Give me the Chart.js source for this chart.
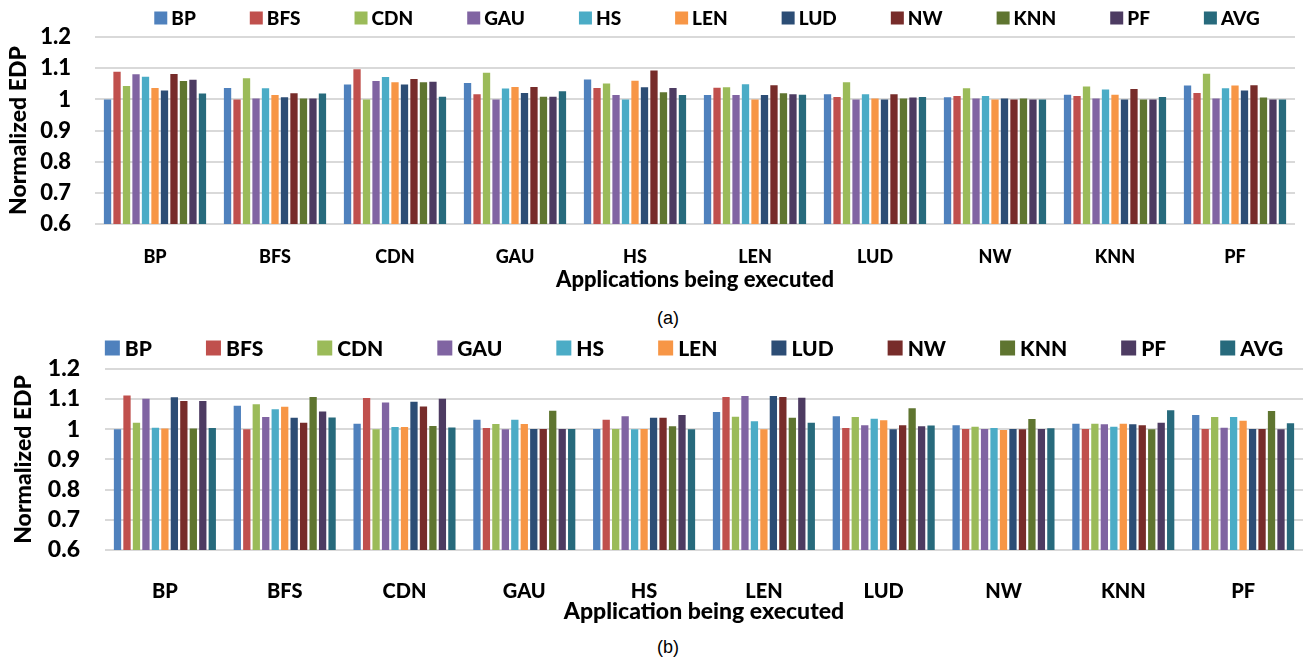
<!DOCTYPE html>
<html>
<head>
<meta charset="utf-8">
<script src="https://cdn.jsdelivr.net/npm/chart.js"></script>
<style>
  html, body { margin: 0; padding: 0; background: #fff; }
  body { width: 1314px; height: 658px; position: relative; overflow: hidden; }
  .wrap { position: absolute; left: 0; width: 1314px; }
  .cap { position: absolute; left: 0; width: 1336px; text-align: center;
         font-family: "Liberation Sans", Arial, sans-serif; font-size: 18px; color: #000; }
</style>
</head>
<body>
<div class="wrap" style="top:0px;height:293px"><canvas id="chartA" width="1314" height="293"></canvas></div>
<div class="cap" style="top:308px">(a)</div>
<div class="wrap" style="top:330px;height:295px"><canvas id="chartB" width="1314" height="295"></canvas></div>
<div class="cap" style="top:637px">(b)</div>
<script>
// applications on the x axis
const apps = ['BP', 'BFS', 'CDN', 'GAU', 'HS', 'LEN', 'LUD', 'NW', 'KNN', 'PF'];
const seriesNames = ['BP', 'BFS', 'CDN', 'GAU', 'HS', 'LEN', 'LUD', 'NW', 'KNN', 'PF', 'AVG'];
const seriesColors = ['#4F81BD', '#C0504D', '#9BBB59', '#8064A2', '#4BACC6', '#F79646',
                      '#2C4D75', '#772C2A', '#5F7530', '#4D3B62', '#276A7C'];
const yTicks = [0.6, 0.7, 0.8, 0.9, 1, 1.1, 1.2];

// (a) normalized EDP, one array per co-running series
const a_BP  = [1.000, 1.037, 1.048, 1.053, 1.064, 1.014, 1.017, 1.007, 1.015, 1.045];
const a_BFS = [1.089, 1.000, 1.097, 1.017, 1.037, 1.038, 1.008, 1.011, 1.011, 1.021];
const a_CDN = [1.043, 1.068, 1.000, 1.086, 1.051, 1.039, 1.055, 1.036, 1.042, 1.083];
const a_GAU = [1.081, 1.003, 1.059, 1.000, 1.014, 1.014, 1.000, 1.003, 1.003, 1.003];
const a_HS  = [1.073, 1.036, 1.072, 1.035, 1.000, 1.049, 1.017, 1.011, 1.032, 1.036];
const a_LEN = [1.037, 1.014, 1.055, 1.040, 1.060, 1.000, 1.003, 1.000, 1.015, 1.045];
const a_LUD = [1.029, 1.007, 1.048, 1.021, 1.039, 1.014, 1.000, 1.003, 1.000, 1.029];
const a_NW  = [1.082, 1.020, 1.066, 1.040, 1.093, 1.046, 1.017, 1.000, 1.034, 1.046];
const a_KNN = [1.059, 1.003, 1.055, 1.009, 1.023, 1.020, 1.003, 1.003, 1.000, 1.006];
const a_PF  = [1.063, 1.003, 1.057, 1.009, 1.037, 1.017, 1.006, 1.000, 1.000, 1.000];
const a_AVG = [1.019, 1.019, 1.009, 1.026, 1.014, 1.015, 1.008, 1.000, 1.008, 1.000];

// (b) normalized EDP
const b_BP  = [1.000, 1.078, 1.018, 1.031, 1.001, 1.057, 1.043, 1.013, 1.018, 1.047];
const b_BFS = [1.112, 1.000, 1.103, 1.004, 1.031, 1.107, 1.004, 1.001, 1.001, 1.001];
const b_CDN = [1.021, 1.083, 1.000, 1.017, 1.001, 1.041, 1.040, 1.008, 1.018, 1.040];
const b_GAU = [1.101, 1.040, 1.088, 1.000, 1.043, 1.110, 1.013, 1.001, 1.016, 1.005];
const b_HS  = [1.005, 1.066, 1.007, 1.031, 1.000, 1.026, 1.035, 1.004, 1.008, 1.040];
const b_LEN = [1.002, 1.074, 1.007, 1.017, 1.001, 1.000, 1.030, 0.997, 1.018, 1.028];
const b_LUD = [1.106, 1.038, 1.091, 1.001, 1.038, 1.110, 1.000, 1.001, 1.016, 1.001];
const b_NW  = [1.093, 1.021, 1.075, 1.001, 1.038, 1.107, 1.013, 1.000, 1.013, 1.001];
const b_KNN = [1.002, 1.107, 1.011, 1.061, 1.010, 1.038, 1.069, 1.034, 1.000, 1.060];
const b_PF  = [1.093, 1.059, 1.101, 1.001, 1.047, 1.104, 1.010, 1.001, 1.021, 1.000];
const b_AVG = [1.004, 1.039, 1.006, 1.001, 1.000, 1.021, 1.012, 1.003, 1.063, 1.020];

const seriesA = [a_BP, a_BFS, a_CDN, a_GAU, a_HS, a_LEN, a_LUD, a_NW, a_KNN, a_PF, a_AVG];
const seriesB = [b_BP, b_BFS, b_CDN, b_GAU, b_HS, b_LEN, b_LUD, b_NW, b_KNN, b_PF, b_AVG];

const FONT = 'Lato';
const WEIGHT = '900';

// legend drawn as one row above the plot, spacing follows text width like Excel does
const rowLegend = {
    id: 'rowLegend',
    afterDraw(chart, args, opts) {
        const ctx = chart.ctx;
        ctx.save();
        ctx.font = WEIGHT + ' ' + opts.size + 'px ' + FONT;
        ctx.textBaseline = 'middle';
        const items = chart.data.datasets.map(ds => ({
            label: ds.label, color: ds.backgroundColor,
            w: opts.box + opts.gap + ctx.measureText(ds.label).width
        }));
        const total = items.reduce((s, it) => s + it.w, 0) + opts.spacing * (items.length - 1);
        let x = opts.center - total / 2;
        items.forEach(it => {
            ctx.fillStyle = it.color;
            ctx.fillRect(x, opts.y - opts.box / 2, opts.box, opts.box);
            ctx.fillStyle = '#000';
            ctx.fillText(it.label, x + opts.box + opts.gap, opts.y + 1);
            x += it.w + opts.spacing;
        });
        ctx.restore();
    }
};

function makeChart(id, series, cfg) {
    const datasets = series.map((vals, i) => ({
        label: seriesNames[i],
        data: vals,
        backgroundColor: seriesColors[i],
        borderWidth: 0,
        categoryPercentage: 0.87,
        barPercentage: 0.77
    }));
    return new Chart(document.getElementById(id), {
        type: 'bar',
        data: { labels: apps, datasets: datasets },
        plugins: [rowLegend],
        options: {
            responsive: false,
            animation: false,
            layout: { padding: { top: cfg.top, left: cfg.left, right: cfg.right, bottom: 0 } },
            plugins: {
                legend: { display: false },
                tooltip: { enabled: false },
                rowLegend: cfg.legend
            },
            scales: {
                x: {
                    grid: { display: false },
                    border: { display: false },
                    ticks: { color: '#000', padding: cfg.xTickPad, maxRotation: 0,
                             font: { family: FONT, weight: WEIGHT, size: cfg.xTickSize } },
                    title: { display: true, text: cfg.xTitle, color: '#000', padding: 0,
                             font: { family: FONT, weight: WEIGHT, size: cfg.xTitleSize, lineHeight: 1.2 } },
                    afterFit: s => { s.height = cfg.xHeight; }
                },
                y: {
                    min: 0.6, max: 1.2,
                    afterBuildTicks: s => { s.ticks = yTicks.map(v => ({ value: v })); },
                    grid: { color: '#d9d9d9', lineWidth: 2, drawTicks: false },
                    border: { display: false },
                    ticks: { color: '#000', padding: cfg.yTickPad, autoSkip: false,
                             callback: v => String(Math.round(v * 10) / 10),
                             font: { family: FONT, weight: WEIGHT, size: cfg.yTickSize } },
                    title: { display: true, text: 'Normalized EDP', color: '#000', padding: 0,
                             font: { family: FONT, weight: WEIGHT, size: cfg.yTitleSize, lineHeight: 1.2 } },
                    afterFit: s => { s.width = cfg.yWidth; }
                }
            }
        }
    });
}

makeChart('chartA', seriesA, {
    top: 27, left: 5, right: 19, yWidth: 90, xHeight: 293 - 224,
    xTickPad: 14, xTickSize: 18, xTitle: 'Applications being executed', xTitleSize: 22,
    yTickPad: 24, yTickSize: 22, yTitleSize: 23,
    legend: { y: 18, center: 707, box: 13, gap: 4, spacing: 54, size: 19 }
});

makeChart('chartB', seriesB, {
    top: 31, left: 10, right: 11, yWidth: 95, xHeight: 295 - 220,
    xTickPad: 22, xTickSize: 20, xTitle: 'Application being executed', xTitleSize: 23,
    yTickPad: 25, yTickSize: 23, yTitleSize: 23,
    legend: { y: 18, center: 694, box: 15, gap: 5, spacing: 54, size: 21 }
});
</script>
</body>
</html>
